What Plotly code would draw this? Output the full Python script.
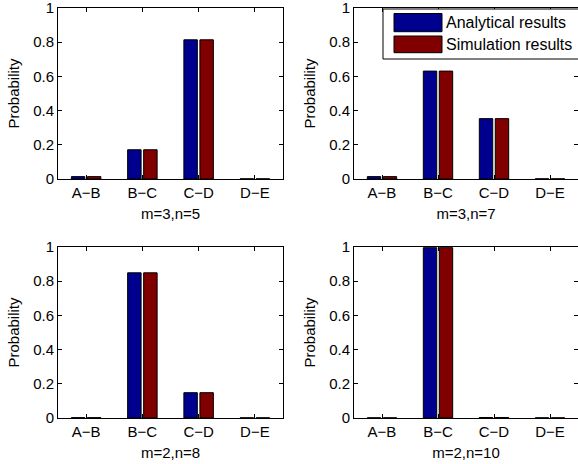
import plotly.graph_objects as go
from plotly.subplots import make_subplots

categories = ["A\u2212B", "B\u2212C", "C\u2212D", "D\u2212E"]
panel_titles = ["m=3,n=5", "m=3,n=7", "m=2,n=8", "m=2,n=10"]

analytical_m3n5 = [0.014, 0.171, 0.814, 0.001]
simulation_m3n5 = [0.014, 0.171, 0.814, 0.001]
analytical_m3n7 = [0.014, 0.631, 0.353, 0.001]
simulation_m3n7 = [0.014, 0.631, 0.353, 0.001]
analytical_m2n8 = [0.002, 0.849, 0.148, 0.001]
simulation_m2n8 = [0.002, 0.849, 0.148, 0.001]
analytical_m2n10 = [0.001, 0.996, 0.003, 0.001]
simulation_m2n10 = [0.001, 0.996, 0.003, 0.001]

y_ticks = [0, 0.2, 0.4, 0.6, 0.8, 1]

W, H = 578, 464
BLUE = "#00008F"
RED = "#800000"
FONT = "Liberation Sans, Arial, sans-serif"
FS = 15
LEG_FS = 16

fig = make_subplots(rows=2, cols=2)

panels = [
    (analytical_m3n5, simulation_m3n5, 1, 1),
    (analytical_m3n7, simulation_m3n7, 1, 2),
    (analytical_m2n8, simulation_m2n8, 2, 1),
    (analytical_m2n10, simulation_m2n10, 2, 2),
]
for i, (a, s, r, c) in enumerate(panels):
    fig.add_trace(go.Bar(x=categories, y=a, name="Analytical results",
                         marker=dict(color=BLUE, line=dict(color="black", width=1)),
                         showlegend=False), row=r, col=c)
    fig.add_trace(go.Bar(x=categories, y=s, name="Simulation results",
                         marker=dict(color=RED, line=dict(color="black", width=1)),
                         showlegend=False), row=r, col=c)

# domains in pixels
xdom = {1: (58, 283), 2: (354, 578)}
ydom = {1: (8, 179), 2: (247, 418)}

k = 0
for r in (1, 2):
    for c in (1, 2):
        x0, x1 = xdom[c]
        yt, yb = ydom[r]
        xa = "xaxis" if k == 0 else f"xaxis{k+1}"
        ya = "yaxis" if k == 0 else f"yaxis{k+1}"
        fig.layout[xa].update(
            domain=[x0 / W, min(x1 / W, 1.0)],
            range=[-0.5, 3.5], automargin=False, ticklabeloverflow="allow",
            showline=True, linecolor="black", linewidth=1, mirror="ticks",
            ticks="inside", ticklen=4, tickcolor="black",
            showgrid=False, zeroline=False,
            tickfont=dict(family=FONT, size=FS, color="black"),
            title=dict(text=panel_titles[k], font=dict(family=FONT, size=FS, color="black"), standoff=8),
        )
        fig.layout[ya].update(
            domain=[1 - yb / H, 1 - yt / H],
            range=[0, 1], tickvals=y_ticks, automargin=False, ticklabeloverflow="allow",
            showline=True, linecolor="black", linewidth=1, mirror="ticks",
            ticks="inside", ticklen=4, tickcolor="black",
            showgrid=False, zeroline=False,
            tickfont=dict(family=FONT, size=FS, color="black"),
            title=dict(text="Probability", font=dict(family=FONT, size=FS, color="black"), standoff=9),
        )
        k += 1

# custom legend
def px(x):
    return x / W

def py(y):
    return 1 - y / H

shapes = [
    dict(type="rect", xref="paper", yref="paper", x0=px(383), x1=px(585), y0=py(59), y1=py(9),
         fillcolor="white", line=dict(color="black", width=1), layer="above"),
    dict(type="rect", xref="paper", yref="paper", x0=px(394), x1=px(442), y0=py(31.7), y1=py(13.5),
         fillcolor=BLUE, line=dict(color="black", width=1), layer="above"),
    dict(type="rect", xref="paper", yref="paper", x0=px(394), x1=px(442), y0=py(52.7), y1=py(36),
         fillcolor=RED, line=dict(color="black", width=1), layer="above"),
]
annotations = [
    dict(xref="paper", yref="paper", x=px(444), y=py(22.6), text="Analytical results",
         showarrow=False, xanchor="left", yanchor="middle",
         font=dict(family=FONT, size=LEG_FS, color="black")),
    dict(xref="paper", yref="paper", x=px(444), y=py(44.3), text="Simulation results",
         showarrow=False, xanchor="left", yanchor="middle",
         font=dict(family=FONT, size=LEG_FS, color="black")),
]

fig.update_layout(
    template="none",
    width=W, height=H,
    margin=dict(l=0, r=0, t=0, b=0, autoexpand=False),
    paper_bgcolor="white", plot_bgcolor="white",
    barmode="group", bargap=0.43, bargroupgap=0.16,
    shapes=shapes, annotations=annotations,
    showlegend=False,
    font=dict(family=FONT, size=FS, color="black"),
)

fig.write_html("out.html", config={"displayModeBar": False},
               post_script="document.body.style.margin='0px';")
